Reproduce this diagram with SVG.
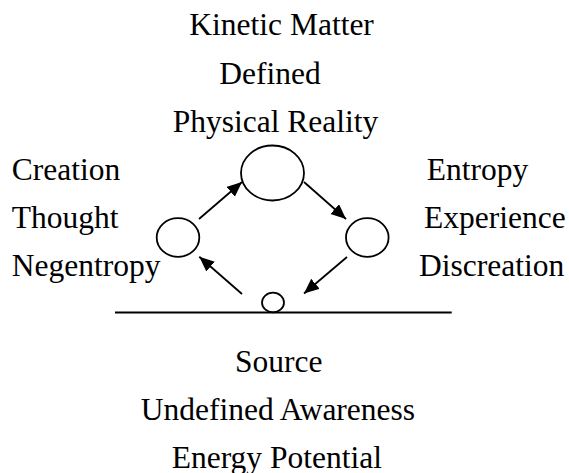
<svg xmlns="http://www.w3.org/2000/svg" width="569" height="473" viewBox="0 0 569 473">
<defs>
<style>
text{font-family:'Liberation Serif','Times New Roman',Tinos,'DejaVu Serif',serif;font-size:31.5px;fill:#000}
.n{fill:none;stroke:#000;stroke-width:1.8}
.c{stroke:#000;stroke-width:1.8;fill:none}
</style>
<marker id="ah" markerUnits="userSpaceOnUse" markerWidth="16" markerHeight="14" refX="15" refY="6.5" orient="auto">
<path d="M0,0 L15,6.5 L0,13 z" fill="#000"/>
</marker>
</defs>
<rect width="569" height="473" fill="#fff"/>
<g id="labels-top" font-family="Liberation Serif, serif">
<text x="189.3" y="35.3">Kinetic Matter</text>
<text x="219.3" y="84">Defined</text>
<text x="172.7" y="131.7">Physical Reality</text>
</g>
<g id="labels-left">
<text x="11.7" y="180">Creation</text>
<text x="11.7" y="227.5">Thought</text>
<text x="11.7" y="276">Negentropy</text>
</g>
<g id="labels-right">
<text x="426.7" y="180">Entropy</text>
<text x="424" y="227.5">Experience</text>
<text x="419" y="276">Discreation</text>
</g>
<g id="labels-bottom">
<text x="235" y="371.7">Source</text>
<text x="140.7" y="419.5">Undefined Awareness</text>
<text x="171.7" y="467.7">Energy Potential</text>
</g>
<g id="node-top"><ellipse class="n" cx="272.5" cy="173" rx="31.5" ry="27.5"/></g>
<g id="node-left"><ellipse class="n" cx="178" cy="237.5" rx="21.3" ry="19.3"/></g>
<g id="node-right"><ellipse class="n" cx="367.3" cy="237.5" rx="21.3" ry="19.3"/></g>
<g id="node-source"><ellipse class="n" cx="273" cy="302.5" rx="11" ry="9.8"/></g>
<g id="baseline"><line x1="115" y1="312.5" x2="451.7" y2="312.5" stroke="#000" stroke-width="2"/></g>
<g id="connectors">
<line class="c" x1="199" y1="219" x2="242" y2="182" marker-end="url(#ah)"/>
<line class="c" x1="304" y1="182" x2="346" y2="219" marker-end="url(#ah)"/>
<line class="c" x1="347" y1="257" x2="304" y2="293.5" marker-end="url(#ah)"/>
<line class="c" x1="242" y1="294" x2="199.3" y2="256.7" marker-end="url(#ah)"/>
</g>
</svg>
